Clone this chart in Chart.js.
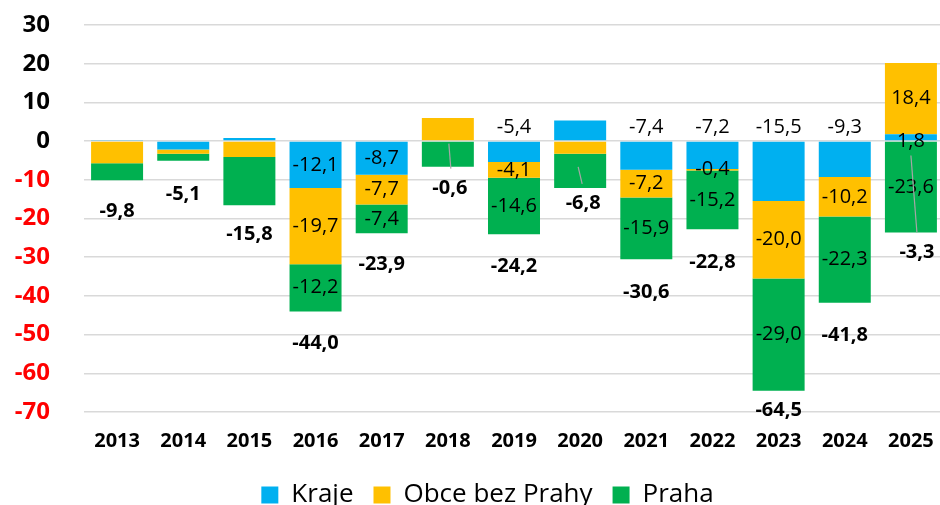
<!DOCTYPE html>
<html>
<head>
<meta charset="utf-8">
<script src="https://cdn.jsdelivr.net/npm/chart.js@4.4.1/dist/chart.umd.min.js"></script>
<style>
  html, body { margin: 0; padding: 0; overflow: hidden; background: #fff; }
  #wrap { width: 975px; height: 518px; position: relative; }
</style>
</head>
<body>
<div id="wrap"><canvas id="c"></canvas></div>
<script>
const categories = ['2013','2014','2015','2016','2017','2018','2019','2020','2021','2022','2023','2024','2025'];
const kraje = [0.3, -2.2, 0.8, -12.1, -8.7, 0, -5.4, 5.3, -7.4, -7.2, -15.5, -9.3, 1.8];
const obce  = [-5.7, -1.1, -4.1, -19.7, -7.7, 6.0, -4.1, -3.3, -7.2, -0.4, -20.0, -10.2, 18.4];
const praha = [-4.4, -1.8, -12.5, -12.2, -7.4, -6.6, -14.6, -8.8, -15.9, -15.2, -29.0, -22.3, -23.6];
const totals = [-9.8, -5.1, -15.8, -44.0, -23.9, -0.6, -24.2, -6.8, -30.6, -22.8, -64.5, -41.8, -3.3];
const yTicks = [-70, -60, -50, -40, -30, -20, -10, 0, 10, 20, 30];

// label placement: 'c' = centre of segment, 'a' = above zero line, 'z' = on zero line, null = none
const krajePos = [null, null, null, 'c', 'c', null, 'a', null, 'a', 'a', 'a', 'a', 'z'];
const obcePos  = [null, null, null, 'c', 'c', null, 'c', null, 'c', 'c', 'c', 'c', 'c'];
const prahaPos = [null, null, null, 'c', 'c', null, 'c', null, 'c', 'c', 'c', 'c', 'c'];
// total label offsets below stack (px) and horizontal shift
const totalDy = [31, 33, 29, 32, 31, 22, 32, 15, 33, 33, 20, 32, 20];
const totalDx = [0, 0, 0, 0, 0, 2, 0, 3, 0, 0, 0, 0, 6];
// leader lines relative to total label: [dx1, dy1, dx2, dy2]
const leaders = { 5: [-1, -45, 1, -20], 7: [-5, -36, -1, -19], 12: [-6, -97, 0, -20] };

const FONT = '"Open Sans", "Noto Sans", sans-serif';
const fmt = v => v.toFixed(1).replace('.', ',');

const legendShift = {
  id: 'legendShift',
  afterLayout(chart) {
    if (chart.legend) { chart.legend.left += 31; }
  }
};

const labelPlugin = {
  id: 'segLabels',
  afterDatasetsDraw(chart) {
    const ctx = chart.ctx;
    const ys = chart.scales.y;
    const zero = ys.getPixelForValue(0);
    ctx.save();
    ctx.textAlign = 'center';
    ctx.textBaseline = 'middle';
    ctx.fillStyle = '#000';
    ctx.font = '400 20px ' + FONT;
    chart.data.datasets.forEach((ds, di) => {
      const meta = chart.getDatasetMeta(di);
      meta.data.forEach((bar, i) => {
        const pos = ds.labelPos[i];
        if (!pos) return;
        let ty;
        if (pos === 'c') ty = (bar.y + bar.base) / 2;
        else if (pos === 'a') ty = zero - 14;
        else ty = zero;
        ctx.fillText(fmt(ds.data[i]), bar.x, ty);
      });
    });
    const meta0 = chart.getDatasetMeta(0);
    ctx.font = '700 20px ' + FONT;
    totals.forEach((t, i) => {
      let neg = 0;
      chart.data.datasets.forEach(ds => { if (ds.data[i] < 0) neg += ds.data[i]; });
      const x = meta0.data[i].x + totalDx[i];
      const y = ys.getPixelForValue(neg) + totalDy[i];
      ctx.fillText(fmt(t), x, y);
      const L = leaders[i];
      if (L) {
        ctx.strokeStyle = '#a6a6a6';
        ctx.lineWidth = 1.2;
        ctx.beginPath();
        ctx.moveTo(x + L[0], y + L[1]);
        ctx.lineTo(x + L[2], y + L[3]);
        ctx.stroke();
      }
    });
    ctx.restore();
  }
};

const barOpts = { barPercentage: 0.786, categoryPercentage: 1.0, borderWidth: 0 };

new Chart(document.getElementById('c'), {
  type: 'bar',
  data: {
    labels: categories,
    datasets: [
      Object.assign({ label: 'Kraje', data: kraje, backgroundColor: '#00B0F0', labelPos: krajePos }, barOpts),
      Object.assign({ label: 'Obce bez Prahy', data: obce, backgroundColor: '#FFC000', labelPos: obcePos }, barOpts),
      Object.assign({ label: 'Praha', data: praha, backgroundColor: '#00B050', labelPos: prahaPos }, barOpts)
    ]
  },
  options: {
    responsive: true,
    maintainAspectRatio: false,
    animation: false,
    layout: { padding: { top: 25, right: 31, left: 0, bottom: 0 } },
    plugins: {
      legend: {
        position: 'bottom',
        labels: {
          color: '#000',
          font: { family: FONT, size: 26, weight: '400' },
          boxWidth: 17,
          boxHeight: 17,
          padding: 20
        }
      },
      tooltip: { enabled: false }
    },
    scales: {
      x: {
        stacked: true,
        grid: { display: false },
        border: { display: false },
        ticks: { color: '#000', font: { family: FONT, size: 20, weight: '700' }, padding: 9 }
      },
      y: {
        stacked: true,
        min: -70,
        max: 30,
        afterFit(scale) { scale.width = 84; scale.paddingTop = 0; scale.paddingBottom = 0; },
        afterBuildTicks(scale) { scale.ticks = yTicks.map(v => ({ value: v })); },
        grid: { color: '#d9d9d9', lineWidth: 1.5, drawTicks: false },
        border: { display: false },
        ticks: {
          padding: 34,
          font: { family: FONT, size: 24, weight: '700' },
          color: ctx => (ctx.tick && ctx.tick.value < 0 ? '#FF0000' : '#000'),
          callback: v => String(v)
        }
      }
    }
  },
  plugins: [labelPlugin, legendShift]
});
</script>
</body>
</html>
